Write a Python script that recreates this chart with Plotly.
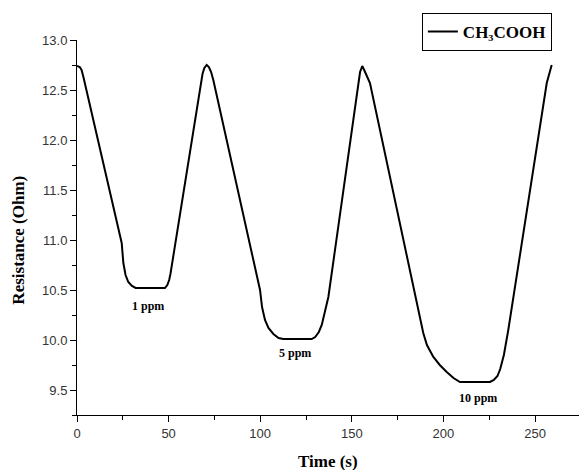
import plotly.graph_objects as go

time_s = [0, 1.5, 2.5, 3.5, 24.4, 25.3, 26.5, 28, 30, 32, 48, 49.3, 50.3, 51,
          68.5, 69.5, 70.8, 72, 73.2, 74.4,
          99.9, 101, 102.6, 104.5, 107.2, 110, 112.6, 128.1, 130, 132, 133.6, 135, 137.2,
          154.5, 155.7, 157, 159.9,
          189, 191, 194.5, 198, 201.8, 205.5, 209, 225.4, 227.5, 229.5, 231, 233, 235.4,
          256.4, 259.1]
resistance = [12.74, 12.73, 12.70, 12.63, 10.97, 10.77, 10.65, 10.58, 10.54, 10.52, 10.52, 10.55, 10.60, 10.66,
              12.66, 12.72, 12.75, 12.73, 12.68, 12.60,
              10.50, 10.33, 10.20, 10.12, 10.06, 10.02, 10.01, 10.01, 10.03, 10.08, 10.15, 10.25, 10.43,
              12.68, 12.74, 12.69, 12.57,
              10.07, 9.95, 9.83, 9.75, 9.68, 9.62, 9.58, 9.58, 9.60, 9.64, 9.71, 9.85, 10.10,
              12.57, 12.75]

label_text = ["1 ppm", "5 ppm", "10 ppm"]
label_x = [39, 119, 219]
label_y = [10.34, 9.87, 9.42]

fig = go.Figure()
fig.add_trace(go.Scatter(x=time_s, y=resistance, mode="lines",
                         name="CH₃COOH",
                         line=dict(color="black", width=2)))

for t, x, y in zip(label_text, label_x, label_y):
    fig.add_annotation(x=x, y=y, text=t, showarrow=False,
                       font=dict(family="Liberation Serif", size=12, color="black", weight="bold"))

title_font = dict(family="Liberation Serif", size=17, color="black", weight="bold")
fig.add_annotation(xref="paper", yref="paper", x=-0.1155, y=0.465, text="Resistance (Ohm)",
                   textangle=-90, showarrow=False, xanchor="center", yanchor="middle", font=title_font)
fig.add_annotation(xref="paper", yref="paper", x=0.5, y=-0.1227, text="Time (s)",
                   showarrow=False, xanchor="center", yanchor="middle", font=title_font)

axis_common = dict(showline=True, linecolor="black", linewidth=1, showgrid=False, zeroline=False,
                   ticks="outside", ticklen=6, tickcolor="black", tickwidth=1,
                   tickfont=dict(family="Liberation Sans", size=13, color="#333"),
                   minor=dict(ticks="outside", ticklen=4, tickcolor="black", tickwidth=1))

fig.update_xaxes(range=[0, 274], tick0=0, dtick=50, minor_dtick=25, **axis_common)
fig.update_yaxes(range=[9.25, 13.0], tick0=9.5, dtick=0.5, minor_dtick=0.25, tickformat=".1f",
                 **axis_common)

fig.update_layout(width=579, height=470, margin=dict(l=77, r=0, t=40, b=55),
                  plot_bgcolor="white", paper_bgcolor="white", showlegend=True,
                  legend=dict(x=0.687, y=1.072, xanchor="left", yanchor="top",
                              bordercolor="black", borderwidth=1, bgcolor="white",
                              font=dict(family="Liberation Serif", size=17, color="black", weight="bold")))

fig.write_html("out.html")
